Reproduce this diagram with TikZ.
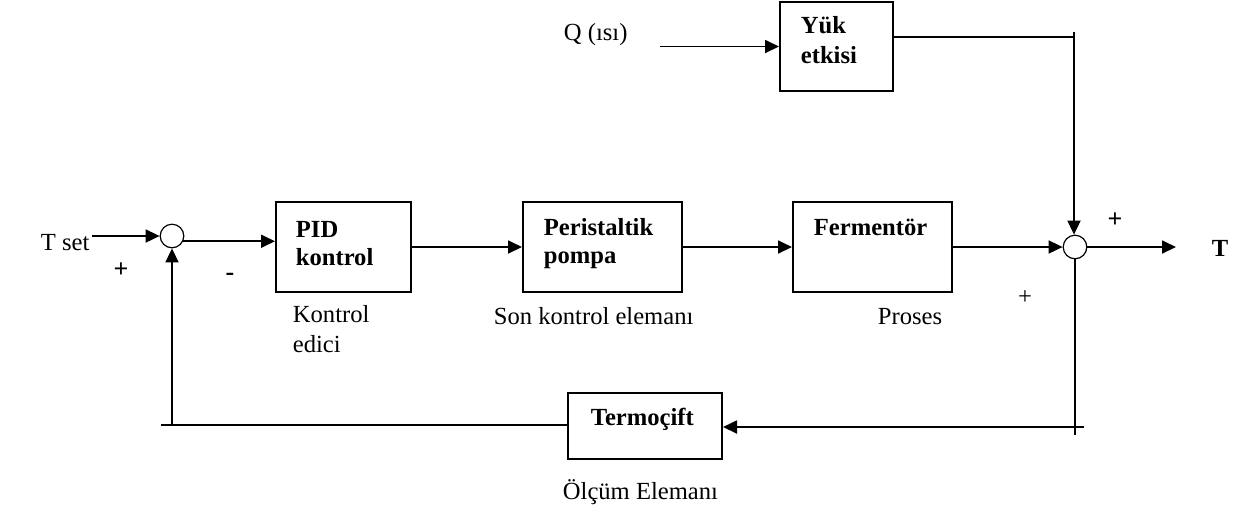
\documentclass[tikz,border=0pt]{standalone}
\usepackage{fontspec}
\setmainfont{Liberation Serif}
\usetikzlibrary{arrows.meta}
\begin{document}
\begin{tikzpicture}[x=0.5pt,y=-0.5pt,
  font=\fontsize{12.3}{14}\selectfont,
  line width=0.9pt,
  block/.style={draw,line width=1pt,minimum width=#1,inner sep=0pt},
  sumjn/.style={draw,circle,line width=0.6pt,minimum size=11.8pt,inner sep=0pt},
  txt/.style={anchor=base west,inner sep=0pt},
  btxt/.style={anchor=base west,inner sep=0pt,font=\fontsize{12.3}{14}\selectfont\bfseries},
  sgn/.style={inner sep=0pt,font=\fontsize{13}{14}\selectfont\bfseries},
  arr/.style={-{Triangle[length=7pt,width=6.5pt]}}]
\useasboundingbox (0,0) rectangle (1237,511);

% blocks
\node[block=67.5pt,minimum height=45pt] (pid) at (343.5,247) {};
\node[block=79.5pt,minimum height=45pt] (per) at (602.5,247) {};
\node[block=79.5pt,minimum height=45pt] (fer) at (872.5,247) {};
\node[block=56.5pt,minimum height=44.5pt] (yuk) at (836.5,46.5) {};
\node[block=77pt,minimum height=33pt] (ter) at (645,426) {};

% summing junctions
\node[sumjn] (s1) at (172,236) {};
\node[sumjn] (s2) at (1075,247) {};

% block texts
\node[btxt] (tpid1) at (295,237) {PID};
\node[btxt] (tpid2) at (295,265) {kontrol};
\node[btxt] (tper1) at (543,235) {Peristaltik};
\node[btxt] (tper2) at (543,263) {pompa};
\node[btxt] (tfer) at (813,235) {Fermentör};
\node[btxt] (tyuk1) at (800,33) {Yük};
\node[btxt] (tyuk2) at (800,63) {etkisi};
\node[btxt] (tter) at (590,425) {Termoçift};

% captions
\node[txt] (ckon1) at (292,322) {Kontrol};
\node[txt] (ckon2) at (292,352) {edici};
\node[txt] (cson) at (493,324) {Son kontrol elemanı};
\node[txt] (cpro) at (877,324) {Proses};
\node[txt] (colc) at (562,499) {Ölçüm Elemanı};

% signals
\node[txt] (tset) at (40,250) {T set};
\node[txt] (qin) at (563,40) {Q (ısı)};
\node[btxt] (tout) at (1211,256) {T};

% signs
\node[sgn] (p1) at (121,270) {+};
\node[sgn] (m1) at (230,277) {-};
\node[sgn] (p2) at (1115,220) {+};
\node[inner sep=0pt] (p3) at (1025,298) {+};

% loose ends
\coordinate (a0) at (92,236);
\coordinate (q0) at (660,46.5);
\coordinate (yb) at (1074,37);
\coordinate (yt) at (1074,32);
\coordinate (t1) at (1176,247);
\coordinate (fbb) at (1075,435);
\coordinate (fbe) at (1084,427);
\coordinate (fbl) at (172,425);
\coordinate (fbx) at (161,425);

% forward path
\draw[arr] (a0) -- (s1.west);
\draw[arr] (s1.-25) -- (s1.-25 -| pid.west);
\draw[arr] (pid.east) -- (per.west);
\draw[arr] (per.east) -- (fer.west);
\draw[arr] (fer.east) -- (s2.west);
\draw[arr] (s2.east) -- (t1);

% disturbance path
\draw[arr] (q0) -- (yuk.west);
\draw (yuk.east |- yb) -- (yb);
\draw[arr] (yt) -- (yt |- s2.north);

% feedback path
\draw (s2.south) -- (fbb);
\draw[arr] (fbe) -- (fbe -| ter.east);
\draw (ter.west |- fbx) -- (fbx);
\draw[arr] (fbl) -- (s1.south);
\end{tikzpicture}
\end{document}
